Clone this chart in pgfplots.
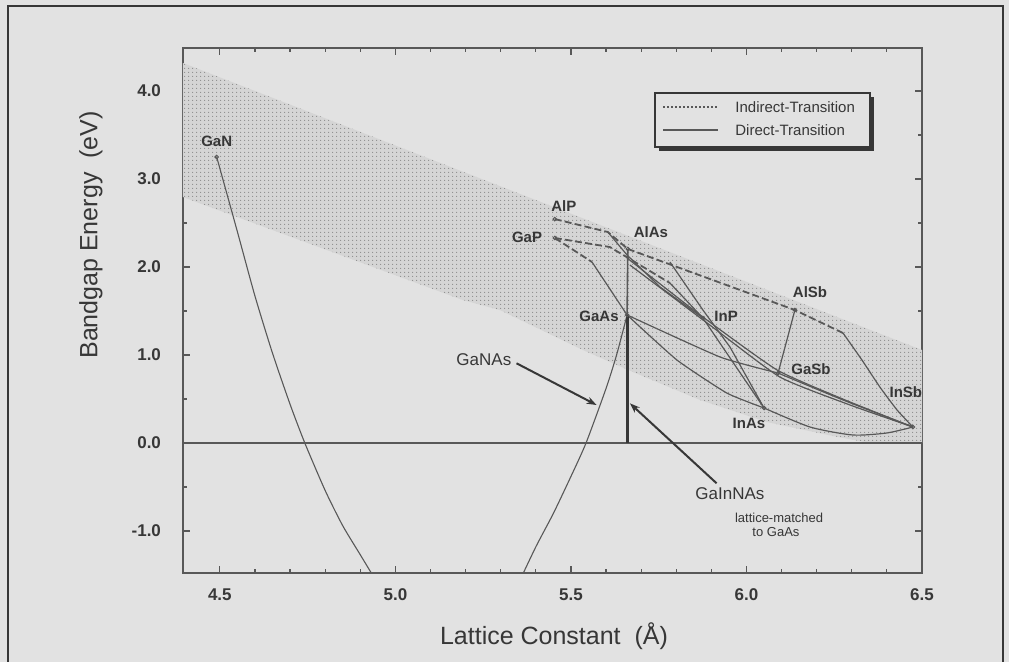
\documentclass[border=0pt]{standalone}
\usepackage{fontspec}
\setmainfont{Liberation Sans}
\usepackage{pgfplots}
\pgfplotsset{compat=1.18}
\usetikzlibrary{patterns.meta,arrows.meta}
\definecolor{bg}{RGB}{226,226,226}
\definecolor{ln}{RGB}{88,88,88}
\definecolor{dk}{RGB}{55,55,55}
\definecolor{bandc}{RGB}{213,213,213}
\definecolor{dotc}{RGB}{140,140,140}
\tikzdeclarepattern{name=stip, type=uncolored, bounding box={(0,0) and (1.8pt,1.8pt)}, tile size={(1.8pt,1.8pt)}, code={\fill (0.9pt,0.9pt) circle (0.32pt);}}
\begin{document}
\begin{tikzpicture}
\begin{scope}[x=0.5pt,y=0.5pt]
\fill[bg] (0,0) rectangle (1009,662);
\useasboundingbox (0,0) rectangle (1009,662);
\draw[dk, line width=1.1pt] (8,0) -- (8,656) -- (1003,656) -- (1003,0);
\end{scope}
\begin{axis}[
  at={(91.5pt,44.5pt)}, anchor=south west,
  width=369.5pt, height=262.5pt, scale only axis,
  xmin=4.395, xmax=6.5, ymin=-1.477, ymax=4.489,
  xtick={4.5,5,5.5,6,6.5}, xticklabels={4.5,5.0,5.5,6.0,6.5},
  ytick={-1,0,1,2,3,4}, yticklabels={-1.0,0.0,1.0,2.0,3.0,4.0},
  minor x tick num=4, minor y tick num=1,
  major tick length=3.5pt, minor tick length=2pt,
  tick style={ln, line width=0.6pt},
  axis line style={ln, line width=1pt},
  tick label style={font=\fontsize{8.5}{10}\selectfont\bfseries, text=dk},
  yticklabel style={xshift=-7.5pt},
  xticklabel style={yshift=-4.2pt},
  clip=true,
]
% shaded band
\addplot[fill=bandc, draw=none] coordinates {
 (4.395,4.318) (6.5,1.057) (6.5,0) (6.352,0) (6.246,0.080) (6.058,0.239)
 (5.868,0.489) (5.677,0.807) (5.534,1.057) (5.298,1.511) (5.192,1.625) (4.395,2.795)} -- cycle;
\addplot[pattern=stip, pattern color=dotc, draw=none] coordinates {
 (4.395,4.318) (6.5,1.057) (6.5,0) (6.352,0) (6.246,0.080) (6.058,0.239)
 (5.868,0.489) (5.677,0.807) (5.534,1.057) (5.298,1.511) (5.192,1.625) (4.395,2.795)} -- cycle;
% zero line
\addplot[ln, line width=0.9pt] coordinates {(4.395,0) (6.5,0)};
% GaNAs bowing curve
\addplot[ln, line width=0.55pt, smooth, tension=0.4] coordinates {
 (4.491,3.250) (4.55,2.40) (4.60,1.67) (4.65,1.02) (4.70,0.44) (4.742,0)
 (4.80,-0.54) (4.85,-0.94) (4.90,-1.27) (4.95,-1.60)};
\addplot[ln, line width=0.55pt, smooth, tension=0.4] coordinates {
 (5.35,-1.60) (5.40,-1.18) (5.45,-0.80) (5.50,-0.38) (5.543,0) (5.60,0.62) (5.63,1.00) (5.660,1.455)};
% indirect (dashed)
\pgfplotsset{ind/.style={ln, line width=0.9pt, dash pattern=on 3.5pt off 1.6pt}, dir/.style={ln, line width=0.6pt}}
\addplot[ind] coordinates {(5.454,2.545) (5.605,2.398) (5.662,2.205)};
\addplot[ind] coordinates {(5.454,2.330) (5.560,2.057)};
\addplot[ind] coordinates {(5.454,2.330) (5.611,2.227) (5.782,1.818)};
\addplot[ind] coordinates {(5.662,2.205) (6.138,1.511) (6.275,1.250)};
% direct (solid)
\addplot[dir] coordinates {(5.605,2.398) (5.660,2.136) (5.754,1.773) (5.876,1.420)};
\addplot[dir] coordinates {(5.560,2.057) (5.660,1.455)};
\addplot[dir] coordinates {(5.782,1.818) (5.876,1.420)};
\addplot[dir, line width=0.8pt] coordinates {(5.662,2.205) (5.660,1.455)};
\addplot[dir] coordinates {(5.782,2.057) (5.876,1.511) (5.953,1.091) (6.050,0.398)};
\addplot[dir] coordinates {(5.876,1.420) (6.050,0.398)};
\addplot[dir, smooth, tension=0.3] coordinates {(5.660,2.102) (5.868,1.455) (6.087,0.830) (6.281,0.489) (6.474,0.182)};
\addplot[dir, smooth, tension=0.3] coordinates {(5.668,2.023) (5.888,1.364) (6.095,0.750) (6.295,0.432) (6.474,0.182)};
\addplot[dir, smooth, tension=0.3] coordinates {(5.660,1.455) (5.925,0.977) (6.090,0.795)};
\addplot[dir, smooth, tension=0.3] coordinates {(6.090,0.795) (6.275,0.489) (6.474,0.182)};
\addplot[dir, smooth, tension=0.3] coordinates {(5.660,1.455) (5.802,0.943) (5.944,0.568) (6.050,0.398)};
\addplot[dir, smooth, tension=0.4] coordinates {(6.050,0.398) (6.181,0.182) (6.303,0.091) (6.400,0.114) (6.474,0.182)};
\addplot[dir] coordinates {(6.138,1.511) (6.090,0.795)};
\addplot[dir, smooth, tension=0.3] coordinates {(6.275,1.250) (6.329,0.943) (6.380,0.636) (6.429,0.375) (6.474,0.182)};
% GaInNAs lattice-matched line
\addplot[dk, line width=1.5pt] coordinates {(5.660,1.455) (5.660,0)};
% binary points
\addplot[only marks, mark=o, mark size=0.9pt, mark options={ln, line width=0.5pt}] coordinates {
 (4.491,3.250) (5.454,2.545) (5.454,2.330) (5.662,2.205) (5.660,1.455) (5.876,1.420)
 (6.138,1.511) (6.090,0.795) (6.050,0.398) (6.474,0.182)};
% arrows
\draw[dk, line width=1pt, -{Stealth[length=5pt,width=3.6pt]}] (axis cs:5.345,0.906) -- (axis cs:5.573,0.432);
\draw[dk, line width=1pt, -{Stealth[length=5pt,width=3.6pt]}] (axis cs:5.915,-0.458) -- (axis cs:5.668,0.451);
% labels
\begin{scope}[every node/.style={font=\fontsize{7.5}{9}\selectfont\bfseries, text=dk, inner sep=0pt}]
\node at (axis cs:4.491,3.432) {GaN};
\node at (axis cs:5.480,2.693) {AlP};
\node at (axis cs:5.375,2.341) {GaP};
\node at (axis cs:5.728,2.398) {AlAs};
\node at (axis cs:5.580,1.443) {GaAs};
\node at (axis cs:5.942,1.443) {InP};
\node at (axis cs:6.181,1.716) {AlSb};
\node at (axis cs:6.184,0.841) {GaSb};
\node at (axis cs:6.007,0.227) {InAs};
\node at (axis cs:6.454,0.580) {InSb};
\end{scope}
\node[font=\fontsize{8.5}{10}\selectfont, text=dk, inner sep=0pt] at (axis cs:5.252,0.943) {GaNAs};
\node[font=\fontsize{8.5}{10}\selectfont, text=dk, inner sep=0pt] at (axis cs:5.953,-0.580) {GaInNAs};
\node[font=\fontsize{6.5}{8}\selectfont, text=dk, inner sep=0pt] at (axis cs:6.093,-0.852) {lattice-matched};
\node[font=\fontsize{6.5}{8}\selectfont, text=dk, inner sep=0pt] at (axis cs:6.084,-1.011) {to GaAs};
\end{axis}
\begin{scope}[x=0.5pt,y=0.5pt]
% legend box
\fill[dk] (659,511) rectangle (874,565);
\fill[bg] (655,515) rectangle (870,569);
\draw[dk, line width=0.7pt] (655,515) rectangle (870,569);
\draw[ln, line width=0.6pt, dash pattern=on 1pt off 1pt] (663,555) -- (718,555);
\draw[ln, line width=0.6pt] (663,532) -- (718,532);
\node[anchor=west, inner sep=0pt, font=\fontsize{7.5}{9}\selectfont, text=dk] at (735,555) {Indirect-Transition};
\node[anchor=west, inner sep=0pt, font=\fontsize{7.5}{9}\selectfont, text=dk] at (735,532) {Direct-Transition};
% axis titles
\node[font=\fontsize{12.5}{15}\selectfont, text=dk] at (554,26) {Lattice Constant\ \ (Å)};
\node[font=\fontsize{12.5}{15}\selectfont, text=dk, rotate=90] at (91,427) {Bandgap Energy\ \ (eV)};
\end{scope}
\end{tikzpicture}
\end{document}
